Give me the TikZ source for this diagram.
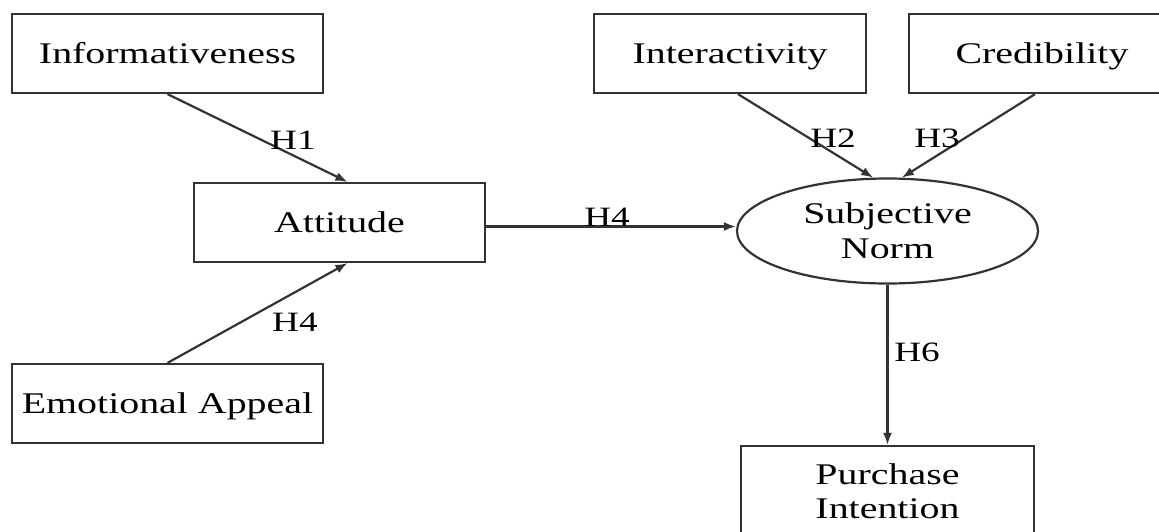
\documentclass[tikz,border=0pt]{standalone}
\usepackage{fontspec}
\newfontfamily\diafont[FakeStretch=1.33]{Liberation Serif}
\usetikzlibrary{arrows.meta,shapes.geometric}
\begin{document}
\begin{tikzpicture}[x=1pt,y=-1pt,
  line/.style={draw=black!80, line width=2.2pt},
  box/.style={line, rectangle, inner sep=0pt, minimum height=79pt,
    font=\diafont\fontsize{30}{35}\selectfont, text height=19.9pt, text depth=0pt},
  tbox/.style={line, rectangle, inner sep=0pt, align=center,
    font=\diafont\fontsize{30}{34}\selectfont},
  oval/.style={line, ellipse, inner sep=0pt, align=center,
    font=\diafont\fontsize{30}{35}\selectfont},
  lbl/.style={inner sep=0pt, font=\diafont\fontsize{28}{32}\selectfont,
    text height=18.5pt, text depth=0pt},
  arr/.style={line, -{Latex[length=12pt,width=9pt]}}]
\useasboundingbox (0,0) rectangle (1159,531);
\fill[white] (0,0) rectangle (1159,531);
% nodes
\node[box, minimum width=311pt] (inf) at (167.5,53.5) {Informativeness};
\node[box, minimum width=291pt] (att) at (339.5,222.5) {Attitude};
\node[box, minimum width=311pt] (emo) at (167.5,403.5) {Emotional Appeal};
\node[box, minimum width=272pt] (int) at (730,53.5) {Interactivity};
\node[box, minimum width=266pt] (cred) at (1042,53.5) {Credibility};
\node[oval, minimum width=301pt, minimum height=105pt] (sn) at (887.5,231) {Subjective\\Norm};
\node[tbox, minimum width=293pt, minimum height=91pt] (pi) at (887.5,491.5) {Purchase\\Intention};
\coordinate (ae) at ([yshift=-4pt]att.east);
% connectors
\draw[arr] (inf.south) -- ([xshift=8pt]att.north);
\draw[arr] (emo.north) -- ([xshift=8pt]att.south);
\draw[arr] (ae) -- (ae -| sn.west);
\draw[arr] ([xshift=8pt]int.south) -- (sn.105);
\draw[arr] ([xshift=-7pt]cred.south) -- (sn.75);
\draw[arr] (sn.south) -- (pi.north);
% labels
\node[lbl] (h1) at (293,140) {H1};
\node[lbl] (h4a) at (295,322) {H4};
\node[lbl] (h4b) at (607,217) {H4};
\node[lbl] (h2) at (833,138) {H2};
\node[lbl] (h3) at (937,138) {H3};
\node[lbl] (h6) at (917,352) {H6};
\end{tikzpicture}
\end{document}
